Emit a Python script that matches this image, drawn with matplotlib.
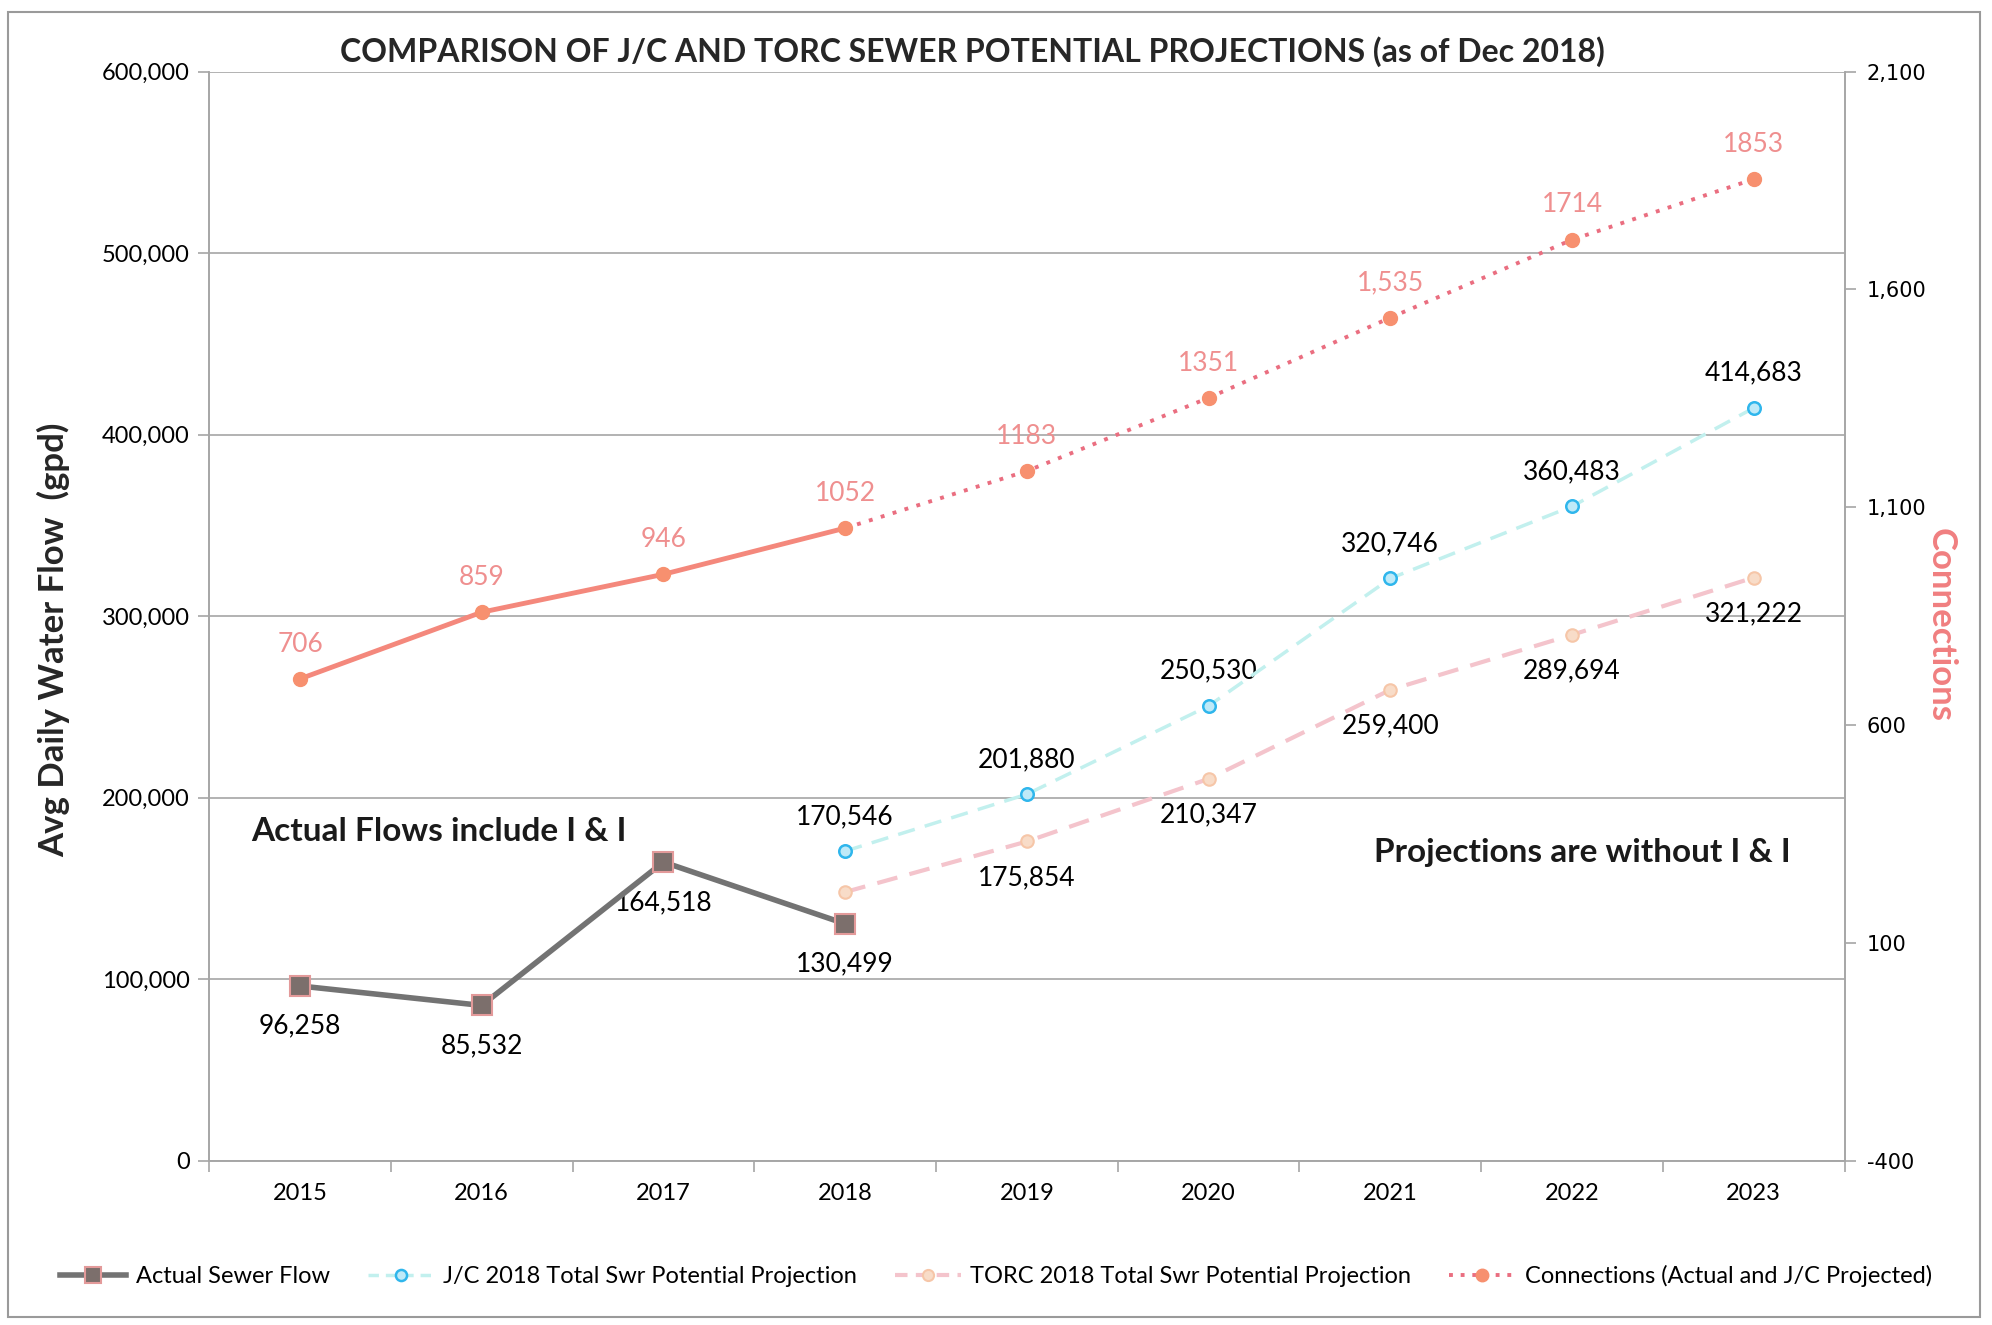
import matplotlib
matplotlib.use("Agg")
import matplotlib.pyplot as plt
from matplotlib.lines import Line2D
from matplotlib.patches import Rectangle

plt.rcParams['font.family'] = ['Lato', 'DejaVu Sans']

# ---- data ----
years = ["2015", "2016", "2017", "2018", "2019", "2020", "2021", "2022", "2023"]
actual_flow = [96258, 85532, 164518, 130499]                       # 2015-2018
jc_projection = [170546, 201880, 250530, 320746, 360483, 414683]   # 2018-2023
torc_projection = [148000, 175854, 210347, 259400, 289694, 321222] # 2018-2023
connections = [706, 859, 946, 1052, 1183, 1351, 1535, 1714, 1853]  # 2015-2023
connection_labels = ["706", "859", "946", "1052", "1183", "1351", "1,535", "1714", "1853"]
left_ticks = [0, 100000, 200000, 300000, 400000, 500000, 600000]
right_ticks = [-400, 100, 600, 1100, 1600, 2100]

x_all = list(range(len(years)))
x_actual = x_all[:len(actual_flow)]
x_proj = x_all[3:]

fig = plt.figure(figsize=(19.92, 13.25), dpi=100)
ax = fig.add_axes([0.105, 0.124, 0.821, 0.822])
ax2 = ax.twinx()

grid_c = "#a6a6a6"
ax.set_xlim(-0.5, len(years) - 0.5)
ax.set_ylim(0, 600000)
ax2.set_ylim(-400, 2100)
ax.set_yticks(left_ticks)
ax.set_yticklabels([f"{v:,}" for v in left_ticks], fontsize=17)
ax2.set_yticks(right_ticks)
ax2.set_yticklabels([f"{v:,}" for v in right_ticks], fontsize=15,
                    family="DejaVu Sans")
ax.yaxis.grid(True, color=grid_c, lw=1.2)
ax.set_axisbelow(True)

ax.set_xticks(x_all)
ax.set_xticklabels(years, fontsize=17)
ax.set_xticks([i + 0.5 for i in range(-1, len(years))], minor=True)
ax.tick_params(axis='x', which='major', length=0, pad=16)
ax.tick_params(axis='x', which='minor', length=8, color=grid_c, width=1.2)
ax.tick_params(axis='y', length=8, color=grid_c, width=1.2, pad=6)
ax2.tick_params(axis='y', length=8, color=grid_c, width=1.2, pad=8)

for a in (ax, ax2):
    a.spines["top"].set_visible(False)
    for s in ("left", "right", "bottom"):
        a.spines[s].set_color(grid_c)
        a.spines[s].set_linewidth(1.2)

# ---- series ----
act_c = "#737373"
ax.plot(x_actual, actual_flow, color=act_c, lw=4, marker="s", ms=14,
        mfc="#7c6f6c", mec="#e39a9a", mew=1.5, zorder=5)
ax.plot(x_proj, jc_projection, color="#c2f0ee", lw=2.5, ls=(0, (5, 3)),
        marker="o", ms=9, mfc="#bfeaf8", mec="#2fb6ec", mew=1.8, zorder=4)
ax.plot(x_proj, torc_projection, color="#f4c4cc", lw=3, ls=(0, (5, 3)),
        marker="o", ms=9, mfc="#f8dcc8", mec="#f6c6a8", mew=1.5, zorder=4)

conn_c = "#f4887c"
ax2.plot(x_all[:4], connections[:4], color=conn_c, lw=3.5, zorder=4)
ax2.plot(x_all[3:], connections[3:], color="#ea6e80", lw=2.8,
         ls=(0, (1, 2.2)), zorder=4)
ax2.plot(x_all, connections, ls="none", marker="o", ms=10,
         mfc="#f7906f", mec="#f7906f", zorder=5)

# ---- data labels ----
lab_fs = 19
for xi, v in zip(x_actual, actual_flow):
    ax.annotate(f"{v:,}", (xi, v), xytext=(0, -29), textcoords="offset points",
                ha="center", va="center", fontsize=lab_fs)
for xi, v in zip(x_proj, jc_projection):
    ax.annotate(f"{v:,}", (xi, v), xytext=(0, 25), textcoords="offset points",
                ha="center", va="center", fontsize=lab_fs)
for xi, v in zip(x_proj[1:], torc_projection[1:]):
    ax.annotate(f"{v:,}", (xi, v), xytext=(0, -26), textcoords="offset points",
                ha="center", va="center", fontsize=lab_fs)
for xi, v, t in zip(x_all, connections, connection_labels):
    ax2.annotate(t, (xi, v), xytext=(0, 25), textcoords="offset points",
                 ha="center", va="center", fontsize=19, color="#ef8f8f")

# ---- text ----
ax.text(0.026, 0.302, "Actual Flows include I & I", transform=ax.transAxes,
        fontsize=24, fontweight="bold", color="#1a1a1a", ha="left", va="center")
ax.text(0.967, 0.283, "Projections are without I & I", transform=ax.transAxes,
        fontsize=24, fontweight="bold", color="#1a1a1a", ha="right", va="center")

fig.text(0.488, 0.961, "COMPARISON OF J/C AND TORC SEWER POTENTIAL PROJECTIONS (as of Dec 2018)",
         ha="center", va="center", fontsize=23, fontweight="bold", color="#262626")
ax.set_ylabel("Avg Daily Water Flow  (gpd)", fontsize=25, fontweight="bold",
              color="#262626")
ax.yaxis.set_label_coords(-0.085, 0.478)
ax2.set_ylabel("Connections", fontsize=25, fontweight="bold", color="#f07f80",
               rotation=270, va="center")
ax2.yaxis.set_label_coords(1.059, 0.492)

# ---- legend ----
handles = [
    Line2D([], [], color=act_c, lw=4, marker="s", ms=12, mfc="#7c6f6c",
           mec="#e39a9a", mew=1.5),
    Line2D([], [], color="#c2f0ee", lw=2.5, ls=(0, (3, 2)), marker="o", ms=8,
           mfc="#bfeaf8", mec="#2fb6ec", mew=1.8),
    Line2D([], [], color="#f4c4cc", lw=3, ls=(0, (3, 2)), marker="o", ms=8,
           mfc="#f8dcc8", mec="#f6c6a8", mew=1.5),
    Line2D([], [], color="#ea6e80", lw=2.8, ls=(0, (1, 2)), marker="o", ms=9,
           mfc="#f7906f", mec="#f7906f"),
]
names = ["Actual Sewer Flow", "J/C 2018 Total Swr Potential Projection",
         "TORC 2018 Total Swr Potential Projection",
         "Connections (Actual and J/C Projected)"]
fig.legend(handles, names, loc="center", bbox_to_anchor=(0.5, 0.037),
           ncol=4, frameon=False, fontsize=17, handlelength=2.8,
           columnspacing=1.6, handletextpad=0.4)

# chart border
fig.patches.append(Rectangle((0.004, 0.006), 0.99, 0.985, transform=fig.transFigure,
                             fill=False, ec="#9a9a9a", lw=1.5))

fig.savefig("out.png", dpi=100, facecolor="white")
